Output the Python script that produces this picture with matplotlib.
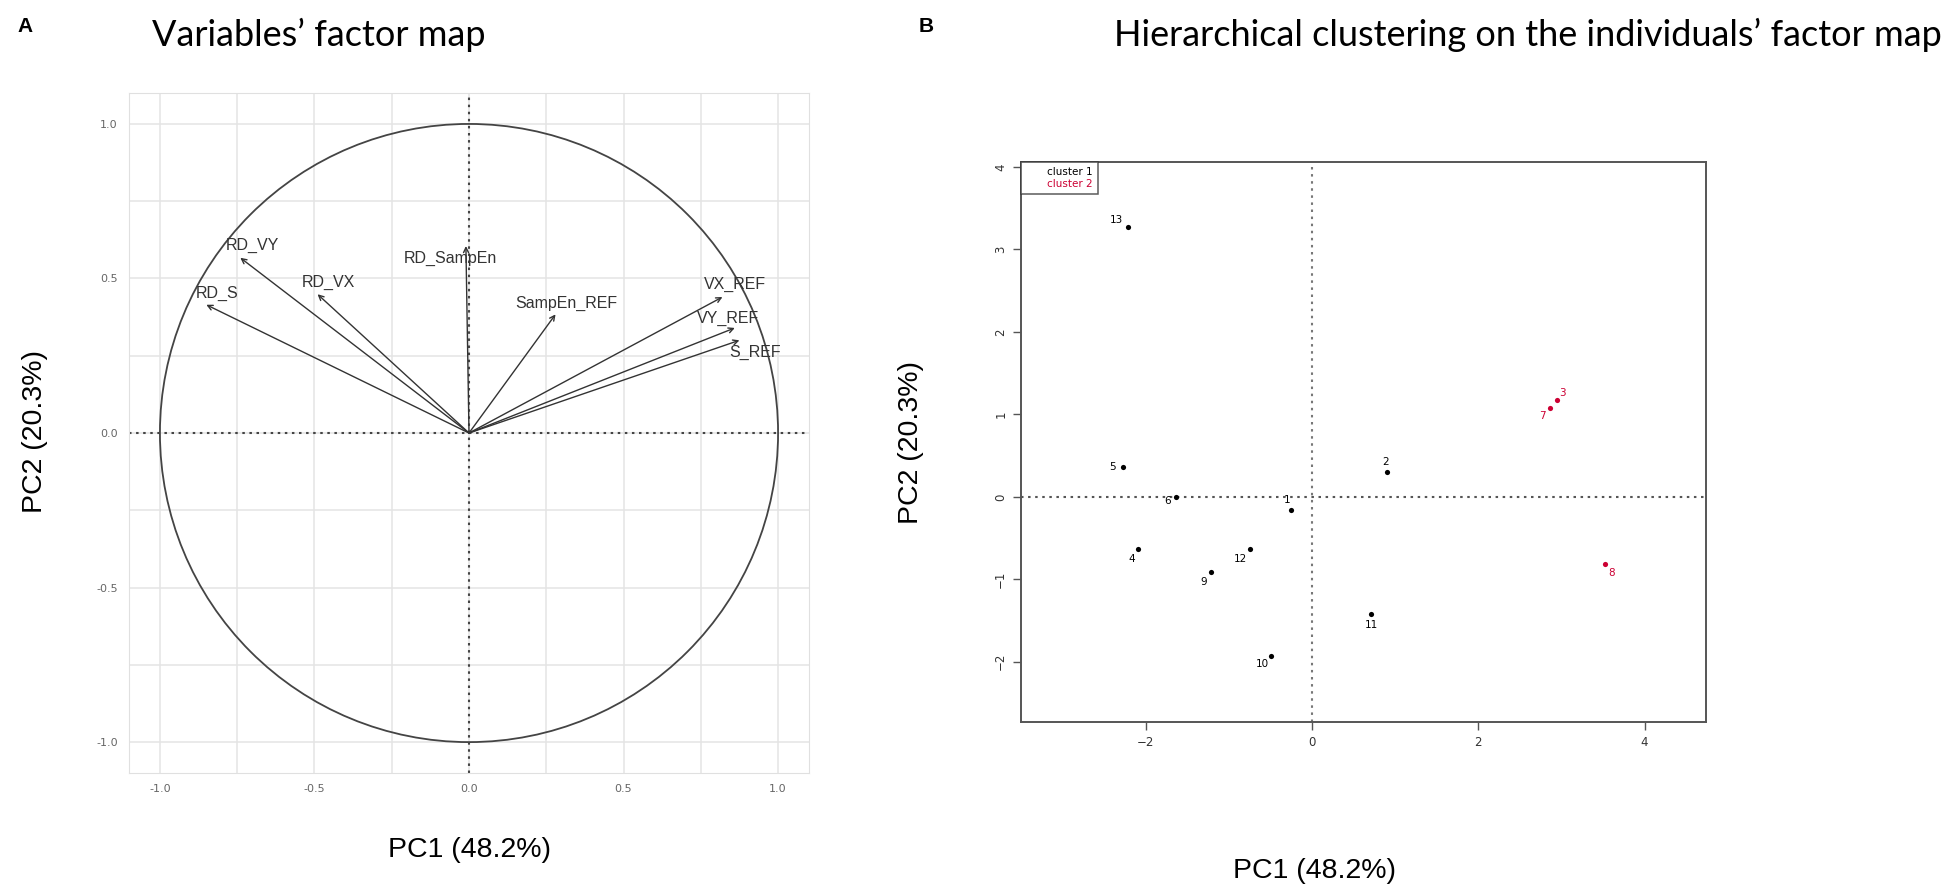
import numpy as np
import matplotlib.pyplot as plt
from matplotlib.patches import Circle
from matplotlib.lines import Line2D

# panel A: variables' factor map (coordinates on PC1 / PC2)
var_names = ['RD_VY', 'RD_S', 'RD_VX', 'RD_SampEn', 'SampEn_REF', 'VX_REF', 'VY_REF', 'S_REF']
var_pc1 = [-0.74, -0.85, -0.49, -0.01, 0.28, 0.82, 0.86, 0.875]
var_pc2 = [0.567, 0.415, 0.449, 0.605, 0.384, 0.44, 0.34, 0.30]

# panel B: individuals' factor map
ind_names = ['1', '2', '3', '4', '5', '6', '7', '8', '9', '10', '11', '12', '13']
ind_pc1 = [-0.25, 0.90, 2.95, -2.09, -2.28, -1.64, 2.86, 3.52, -1.22, -0.50, 0.71, -0.75, -2.22]
ind_pc2 = [-0.16, 0.30, 1.18, -0.63, 0.36, 0.0, 1.08, -0.82, -0.91, -1.93, -1.42, -0.63, 3.27]
ind_cluster = [1, 1, 2, 1, 1, 1, 2, 2, 1, 1, 1, 1, 1]

cluster_colors = {1: 'black', 2: '#cc0033'}

fig = plt.figure(figsize=(19.55, 8.92), dpi=100)

# ---------------- A ----------------
ax = fig.add_axes([0.066, 0.1334, 0.3478, 0.7623])
ax.set_xlim(-1.1, 1.1)
ax.set_ylim(-1.1, 1.1)
ax.set_xticks([-1, -0.5, 0, 0.5, 1])
ax.set_yticks([-1, -0.5, 0, 0.5, 1])
ax.set_xticks([-0.75, -0.25, 0.25, 0.75], minor=True)
ax.set_yticks([-0.75, -0.25, 0.25, 0.75], minor=True)
ax.xaxis.set_major_formatter(lambda v, p: f'{v:.1f}')
ax.yaxis.set_major_formatter(lambda v, p: f'{v:.1f}')
ax.grid(True, which='both', color='#e4e4e4', lw=1.1)
ax.set_axisbelow(True)
ax.tick_params(which='both', length=0, labelsize=8, labelcolor='#666666', pad=8)
for s in ax.spines.values():
    s.set_color('#e0e0e0')

ax.add_patch(Circle((0, 0), 1, fill=False, color='#444444', lw=1.3))
ax.axhline(0, color='#444444', ls=(0, (1.2, 2.2)), lw=1.5)
ax.axvline(0, color='#444444', ls=(0, (1.2, 2.2)), lw=1.5)

lab_off = [(9, 9), (8, 8), (8, 8.5), (-11, -9), (8, 8), (9, 9), (-5, 7), (11, -9)]
for name, x, y, off in zip(var_names, var_pc1, var_pc2, lab_off):
    ax.annotate('', xy=(x, y), xytext=(0, 0),
                arrowprops=dict(arrowstyle='->', color='#333333', lw=1.0,
                                shrinkA=0, shrinkB=0, mutation_scale=9))
    ax.annotate(name, xy=(x, y), xytext=off, textcoords='offset points',
                ha='center', va='center', fontsize=11.5, color='#333333',
                family='Liberation Sans')

fig.text(0.2399, 0.047, 'PC1 (48.2%)', fontsize=20.5, family='Liberation Sans',
         ha='center', va='center')
fig.text(0.018, 0.516, 'PC2 (20.3%)', fontsize=20.5, family='Liberation Sans',
         ha='center', va='center', rotation=90)
fig.text(0.0087, 0.970, 'A', fontsize=15, fontweight='bold', family='Liberation Sans',
         ha='left', va='center')
fig.text(0.163, 0.961, 'Variables\u2019 factor map', fontsize=26, family='Lato',
         ha='center', va='center')

# ---------------- B ----------------
bx = fig.add_axes([0.5223, 0.1906, 0.3504, 0.6278])
bx.set_xlim(-3.5, 4.74)
bx.set_ylim(-2.73, 4.06)
bx.set_xticks([-2, 0, 2, 4])
bx.set_yticks([-2, -1, 0, 1, 2, 3, 4])
bx.tick_params(length=6, width=1.0, color='#555555', labelsize=8.5, labelcolor='#333333',
               pad=4)
for lbl in bx.get_yticklabels():
    lbl.set_rotation(90)
    lbl.set_va('center')
for s in bx.spines.values():
    s.set_color('#555555')
    s.set_linewidth(1.4)
bx.axhline(0, color='#555555', ls=(0, (1.2, 2.2)), lw=1.5)
bx.axvline(0, color='#777777', ls=(0, (1.2, 2.2)), lw=1.5)

ind_off = {'1': (-3, 7), '2': (-1, 7), '3': (4, 5), '4': (-5, -7), '5': (-7, 0),
           '6': (-6, -3), '7': (-5, -6), '8': (5, -6), '9': (-5, -7), '10': (-6, -6),
           '11': (0, -8), '12': (-7, -7), '13': (-8, 5)}
for name, x, y, c in zip(ind_names, ind_pc1, ind_pc2, ind_cluster):
    col = cluster_colors[c]
    bx.scatter(x, y, s=14, color=col, zorder=3, lw=0)
    bx.annotate(name, xy=(x, y), xytext=ind_off[name], textcoords='offset points',
                ha='center', va='center', fontsize=7.5, color=col)

handles = [Line2D([], [], ls='none', label='cluster 1'),
           Line2D([], [], ls='none', label='cluster 2')]
leg = bx.legend(handles=handles, loc='upper left', borderaxespad=0, fancybox=False,
                edgecolor='#333333', handlelength=1.6, handletextpad=0.4, fontsize=7.5,
                labelcolor=[cluster_colors[1], cluster_colors[2]],
                borderpad=0.5, labelspacing=0.2)
leg.get_frame().set_linewidth(1.1)

fig.text(0.6725, 0.024, 'PC1 (48.2%)', fontsize=20.5, family='Liberation Sans',
         ha='center', va='center')
fig.text(0.466, 0.504, 'PC2 (20.3%)', fontsize=20.5, family='Liberation Sans',
         ha='center', va='center', rotation=90)
fig.text(0.470, 0.970, 'B', fontsize=15, fontweight='bold', family='Liberation Sans',
         ha='left', va='center')
fig.text(0.7816, 0.961, 'Hierarchical clustering on the individuals\u2019 factor map',
         fontsize=26, family='Lato', ha='center', va='center')

fig.savefig('out.png', dpi=100, facecolor='white')
